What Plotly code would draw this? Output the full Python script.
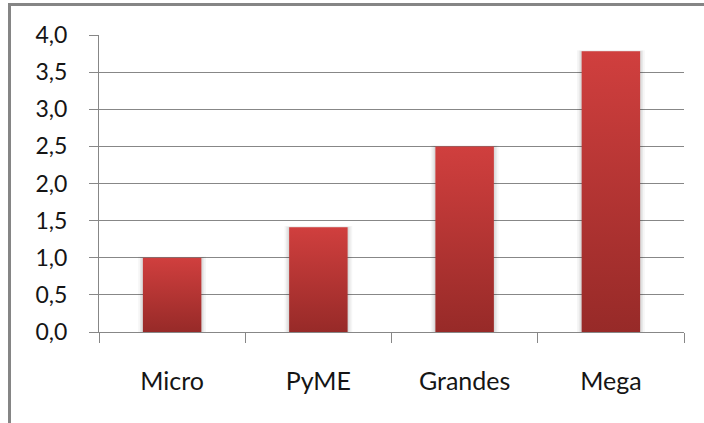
import plotly.graph_objects as go

# Company size categories and their values
categories = ["Micro", "PyME", "Grandes", "Mega"]
values = [1.0, 1.41, 2.5, 3.78]
y_ticks = [0.0, 0.5, 1.0, 1.5, 2.0, 2.5, 3.0, 3.5, 4.0]

BAR_TOP = "#D03F3E"
BAR_BOTTOM = "#972A28"
GRID = "#878787"
HALF = 0.20  # half bar width in category units

W, H = 704, 423
L, R, T, B = 99, 20, 35, 91
pw, ph = W - L - R, H - T - B


def px_x(p):
    return (p - L) / pw


def px_y(p):
    return (H - B - p) / ph


fig = go.Figure()

for i, v in enumerate(values):
    # soft shadow around the bar
    for extra, alpha in [(0.032, 0.035), (0.02, 0.05), (0.01, 0.06)]:
        fig.add_trace(go.Scatter(
            x=[i - HALF - extra, i + HALF + extra, i + HALF + extra, i - HALF - extra, i - HALF - extra],
            y=[0, 0, v + extra * 0.5, v + extra * 0.5, 0],
            mode="lines", line=dict(width=0), fill="toself",
            fillcolor=f"rgba(0,0,0,{alpha})", hoverinfo="skip", showlegend=False,
        ))
    # bar with vertical gradient
    fig.add_trace(go.Scatter(
        x=[i - HALF, i + HALF, i + HALF, i - HALF, i - HALF],
        y=[0, 0, v, v, 0],
        mode="lines", line=dict(width=0), fill="toself",
        fillgradient=dict(type="vertical", colorscale=[[0, BAR_BOTTOM], [1, BAR_TOP]]),
        name=categories[i], hovertemplate="%{text}: " + f"{v:.2f}".replace(".", ",") + "<extra></extra>",
        text=[categories[i]] * 5, showlegend=False,
    ))

fig.update_layout(
    width=W, height=H,
    margin=dict(l=L, r=R, t=T, b=B),
    paper_bgcolor="white", plot_bgcolor="white",
    separators=",.",
    showlegend=False,
    font=dict(family="Lato, Open Sans, sans-serif", color="#000000"),
    xaxis=dict(
        range=[-0.5, 3.5], showgrid=False, zeroline=False,
        showline=True, linecolor=GRID, linewidth=1,
        tickmode="array", tickvals=list(range(len(categories))), ticktext=categories,
        ticks="outside", ticklen=0, tickcolor=GRID,
        ticklabelstandoff=27,
        tickfont=dict(size=25, color="#151515"),
        minor=dict(tickmode="array", tickvals=[k - 0.5 for k in range(len(categories) + 1)],
                   ticks="outside", ticklen=10, tickcolor=GRID, tickwidth=1, showgrid=False),
        fixedrange=True,
    ),
    yaxis=dict(
        range=[0, 4], tickmode="array", tickvals=y_ticks,
        tickformat=".1f", showgrid=True, gridcolor=GRID, gridwidth=1,
        zeroline=False, showline=True, linecolor=GRID, linewidth=1,
        ticks="outside", ticklen=9, tickcolor=GRID,
        ticklabelstandoff=17,
        tickfont=dict(size=23, color="#151515"),
        fixedrange=True,
    ),
    shapes=[
        # outer chart frame (top and left edges)
        dict(type="line", xref="paper", yref="paper",
             x0=px_x(9.5), y0=px_y(H + 5), x1=px_x(9.5), y1=px_y(4.5),
             line=dict(color="#858585", width=3)),
        dict(type="line", xref="paper", yref="paper",
             x0=px_x(8), y0=px_y(4.5), x1=px_x(W + 5), y1=px_y(4.5),
             line=dict(color="#858585", width=3)),
    ],
)

fig.write_html("out.html")
